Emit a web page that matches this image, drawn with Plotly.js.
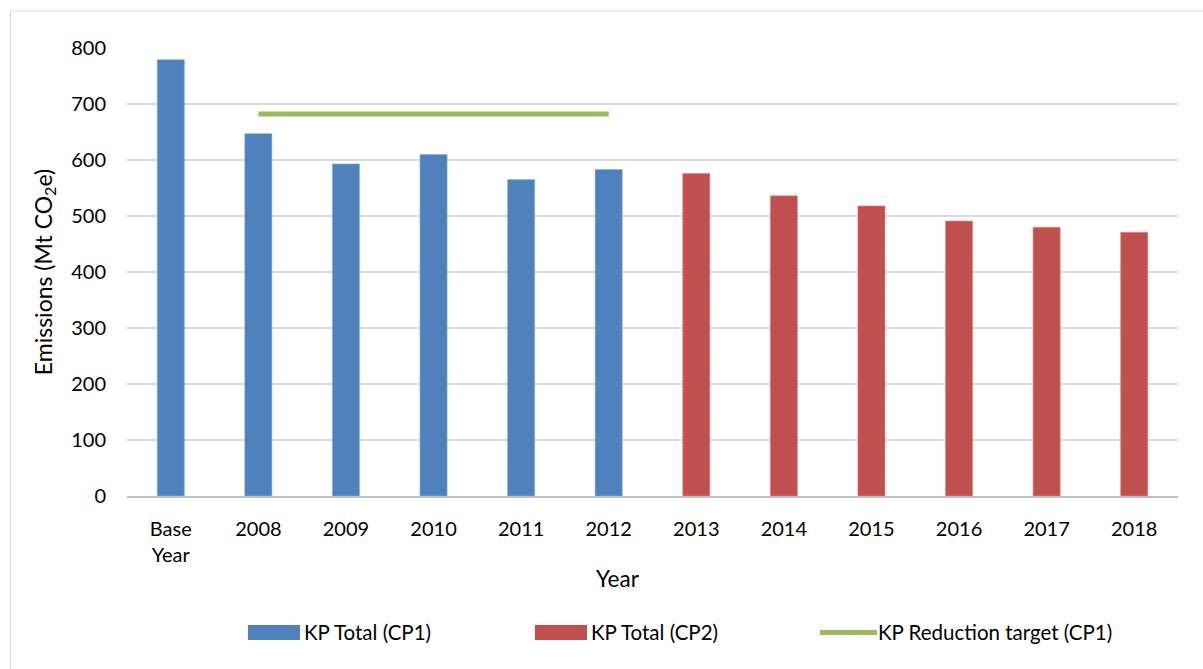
<!DOCTYPE html>
<html>
<head>
<meta charset="utf-8">
<script src="https://cdn.plot.ly/plotly-3.0.1.min.js"></script>
<style>
  html, body { margin: 0; padding: 0; background: #fff; }
  #chart { width: 1203px; height: 669px; }
</style>
</head>
<body>
<div id="chart"></div>
<script>
// ---- data ----
const categories = ["Base Year", "2008", "2009", "2010", "2011", "2012", "2013", "2014", "2015", "2016", "2017", "2018"];
const tickLabels = ["Base<br>Year", "2008", "2009", "2010", "2011", "2012", "2013", "2014", "2015", "2016", "2017", "2018"];
const cp1Years = ["Base Year", "2008", "2009", "2010", "2011", "2012"];
const cp1Values = [779, 647, 593, 610, 565, 583];
const cp2Years = ["2013", "2014", "2015", "2016", "2017", "2018"];
const cp2Values = [576, 536, 518, 491, 480, 471];
const targetYears = ["2008", "2009", "2010", "2011", "2012"];
const targetValues = [682, 682, 682, 682, 682];
const legendNames = ["KP Total (CP1)", "KP Total (CP2)", "KP Reduction target (CP1)"];

const BLUE = "#4f81bd", RED = "#c0504d", GREEN = "#9bbb59";
const FONT = "Lato, 'Open Sans', sans-serif";

const traces = [
  { type: "bar", x: cp1Years, y: cp1Values, name: legendNames[0],
    marker: { color: BLUE, line: { color: "#8eaedb", width: 0.6 } }, showlegend: false },
  { type: "bar", x: cp2Years, y: cp2Values, name: legendNames[1],
    marker: { color: RED, line: { color: "#e0908e", width: 0.6 } }, showlegend: false },
  { type: "scatter", mode: "lines", x: targetYears, y: targetValues, name: legendNames[2],
    line: { color: GREEN, width: 5 }, showlegend: false }
];

// plot area in pixels: x 127..1178, y 48..496
const L = 127, R = 1178, T = 48, B = 496;
const px = v => (v - L) / (R - L);
const py = v => (B - v) / (B - T);

const legendY = 632;
const shapes = [
  // outer chart border (left + top visible)
  { type: "line", xref: "paper", yref: "paper", x0: px(10.5), x1: px(10.5), y0: py(11), y1: py(680),
    line: { color: "#d9d9d9", width: 1 } },
  { type: "line", xref: "paper", yref: "paper", x0: px(10.5), x1: px(1210), y0: py(11), y1: py(11),
    line: { color: "#d9d9d9", width: 1 } },
  // legend swatches
  { type: "rect", xref: "paper", yref: "paper", x0: px(248), x1: px(300), y0: py(640), y1: py(625),
    fillcolor: BLUE, line: { width: 0 } },
  { type: "rect", xref: "paper", yref: "paper", x0: px(535), x1: px(587), y0: py(640), y1: py(625),
    fillcolor: RED, line: { width: 0 } },
  { type: "line", xref: "paper", yref: "paper", x0: px(820), x1: px(877), y0: py(632.5), y1: py(632.5),
    line: { color: GREEN, width: 5 } }
];

const annFont = { family: FONT, size: 20.5, color: "#000" };
const annotations = [
  { xref: "paper", yref: "paper", x: px(302), y: py(legendY), xanchor: "left", yanchor: "middle",
    text: legendNames[0], showarrow: false, font: annFont },
  { xref: "paper", yref: "paper", x: px(589), y: py(legendY), xanchor: "left", yanchor: "middle",
    text: legendNames[1], showarrow: false, font: annFont },
  { xref: "paper", yref: "paper", x: px(876), y: py(legendY), xanchor: "left", yanchor: "middle",
    text: legendNames[2], showarrow: false, font: annFont },
  // x-axis title (Excel places it slightly left of the plot centre)
  { xref: "paper", yref: "paper", x: px(618), y: py(578), xanchor: "center", yanchor: "middle",
    text: "Year", showarrow: false, font: { family: FONT, size: 22.5, color: "#000" } }
];

const layout = {
  width: 1203, height: 669,
  margin: { l: L, r: 1203 - R, t: T, b: 669 - B, pad: 0 },
  paper_bgcolor: "#fff", plot_bgcolor: "#fff",
  font: { family: FONT, size: 20, color: "#000" },
  barmode: "overlay",
  bargap: 0.69,
  showlegend: false,
  xaxis: {
    type: "category",
    categoryorder: "array", categoryarray: categories,
    tickvals: categories, ticktext: tickLabels,
    range: [-0.5, categories.length - 0.5],
    ticks: "outside", ticklen: 14, tickcolor: "rgba(0,0,0,0)",
    showgrid: false, zeroline: false,
    showline: true, linecolor: "#bfbfbf", linewidth: 1.5,
    tickfont: { family: FONT, size: 20, color: "#000" }
  },
  yaxis: {
    range: [0, 800], dtick: 100,
    showgrid: true, gridcolor: "#d9d9d9", gridwidth: 1.5,
    zeroline: false, showline: false,
    ticks: "outside", ticklen: 16, tickcolor: "rgba(0,0,0,0)",
    tickfont: { family: FONT, size: 20, color: "#000" },
    title: { text: "Emissions (Mt CO<sub>2</sub>e)", font: { family: FONT, size: 23, color: "#000" }, standoff: 12 }
  },
  shapes: shapes,
  annotations: annotations
};

Plotly.newPlot("chart", traces, layout, { displayModeBar: false, staticPlot: true });
</script>
</body>
</html>
